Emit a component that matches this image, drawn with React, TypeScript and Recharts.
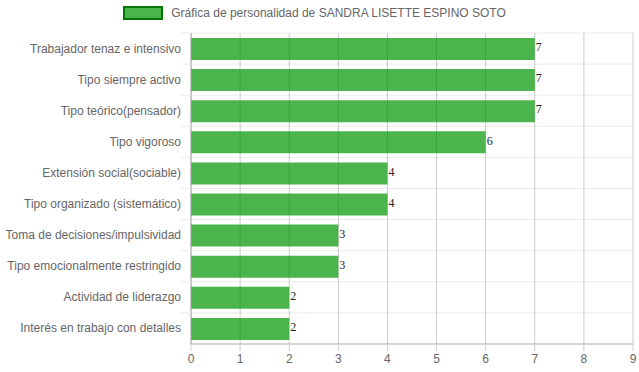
import { Bar, BarChart, CartesianGrid, LabelList, XAxis, YAxis } from 'recharts';

const categories = [
  'Trabajador tenaz e intensivo',
  'Tipo siempre activo',
  'Tipo teórico(pensador)',
  'Tipo vigoroso',
  'Extensión social(sociable)',
  'Tipo organizado (sistemático)',
  'Toma de decisiones/impulsividad',
  'Tipo emocionalmente restringido',
  'Actividad de liderazgo',
  'Interés en trabajo con detalles',
];
const scores = [7, 7, 7, 6, 4, 4, 3, 3, 2, 2];
const xTicks = [0, 1, 2, 3, 4, 5, 6, 7, 8, 9];
const xMax = 9;
const seriesName = 'Gráfica de personalidad de SANDRA LISETTE ESPINO SOTO';

const data = categories.map((c, i) => ({ name: c, value: scores[i] }));

const FONT = '"Liberation Sans", Arial, Helvetica, sans-serif';
const BAR_FILL = 'rgba(0,148,0,0.7)';

function TopLegend() {
  return (
    <div
      style={{
        position: 'absolute',
        top: 6,
        left: -5,
        width: 639,
        display: 'flex',
        justifyContent: 'center',
        alignItems: 'center',
        fontFamily: FONT,
        fontSize: 12,
        color: '#666',
      }}
    >
      <span
        style={{
          display: 'inline-block',
          width: 36,
          height: 10,
          background: BAR_FILL,
          border: '2px solid rgb(0,120,0)',
          marginRight: 8,
        }}
      />
      <span>{seriesName}</span>
    </div>
  );
}

function CatTick({ x, y, payload }: { x?: number; y?: number; payload?: { value: string } }) {
  const px = x ?? 0;
  const py = y ?? 0;
  const half = 31.1 / 2;
  return (
    <g>
      <line x1={px} x2={px + 10} y1={py - half} y2={py - half} stroke="#ebebeb" />
      <text x={px} y={py} dy={4} textAnchor="end" fill="#666" fontSize={12} fontFamily={FONT}>
        {payload?.value}
      </text>
    </g>
  );
}

export default function App() {
  return (
    <div style={{ position: 'absolute', left: 0, top: 0, width: 639, height: 372, background: '#fff' }}>
      <BarChart
        width={639}
        height={372}
        data={data}
        layout="vertical"
        margin={{ top: 33, right: 6, bottom: 0, left: 0 }}
      >
        <CartesianGrid
          stroke="#ebebeb"
          vertical={false}
          horizontalCoordinatesGenerator={({ offset }: any) =>
            categories.map((_, i) => offset.top + (i * offset.height) / categories.length)
          }
        />
        <XAxis
          type="number"
          domain={[0, xMax]}
          ticks={xTicks}
          interval={0}
          height={28}
          tick={{ fontSize: 12, fill: '#666', fontFamily: FONT }}
          axisLine={{ stroke: '#aaa' }}
          tickLine={{ stroke: '#ccc' }}
          tickSize={7}
          tickMargin={3}
        />
        <YAxis
          type="category"
          dataKey="name"
          width={191}
          tick={<CatTick />}
          axisLine={{ stroke: '#aaa' }}
          tickLine={false}
          tickSize={10}
          tickMargin={0}
          interval={0}
        />
        <Bar dataKey="value" name={seriesName} fill={BAR_FILL} barSize={22} isAnimationActive={false}>
          <LabelList
            dataKey="value"
            position="right"
            offset={1}
            dy={-2}
            fill="#222"
            fontSize={12}
            fontFamily="serif"
          />
        </Bar>
        <CartesianGrid
          stroke="rgba(0,0,0,0.2)"
          horizontal={false}
          verticalCoordinatesGenerator={({ offset }: any) =>
            xTicks.map((t) => offset.left + (t / xMax) * offset.width)
          }
        />
      </BarChart>
      <TopLegend />
    </div>
  );
}
